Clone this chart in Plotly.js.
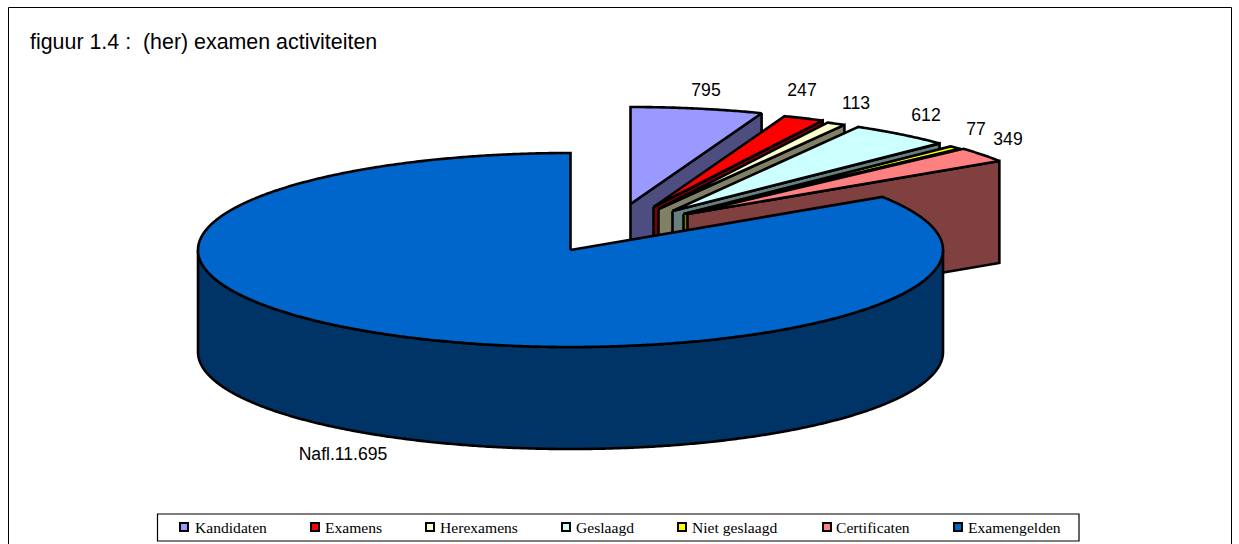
<!DOCTYPE html>
<html>
<head>
<meta charset="utf-8">
<script src="https://cdn.plot.ly/plotly-3.0.1.min.js"></script>
<style>html,body{margin:0;padding:0;background:#fff;overflow:hidden}</style>
</head>
<body>
<div id="chart" style="width:1239px;height:544px"></div>
<script>
// Data
const categories = ["Kandidaten","Examens","Herexamens","Geslaagd","Niet geslaagd","Certificaten","Examengelden"];
const values = [795,247,113,612,77,349,11695];
const valueLabels = ["795","247","113","612","77","349","Nafl.11.695"];
const topColors = ["#9999FF","#FF0000","#FFFFCC","#CCFFFF","#FFFF00","#FF8080","#0066CC"];
const wallColors = ["#4D4D80","#800000","#808066","#668080","#808000","#804040","#003366"];

// Layout of the drawing (pixels on the hidden axes)
const cx = 570.5, cy = 250, rx = 372.5, ry = 97, depth = 102;
const explodeX = [60,83,88,102,113,117,0];
const explodeY = [-46,-43,-41,-39,-36,-36,0];
const labelX = [706,802,856,926,976,1008,343];
const labelY = [92,92,105,117,131,141,456];
const legendSwatchX = [184,315,430,566,682,827,958];
const legendTextX = [195,325,440,576,692,836,968];
const legendY = 527;

const total = values.reduce((a,b)=>a+b,0);
function pt(ox,oy,deg){const t=deg*Math.PI/180;return [ox+rx*Math.sin(t),oy-ry*Math.cos(t)];}
function arc(ox,oy,a,b){const n=Math.max(2,Math.ceil(Math.abs(b-a)/0.4));const out=[];for(let i=0;i<=n;i++)out.push(pt(ox,oy,a+(b-a)*i/n));return out;}
function poly(points,fill,name){
  const p=points.concat([points[0]]);
  return {type:"scatter",mode:"lines",x:p.map(q=>q[0]),y:p.map(q=>q[1]),fill:"toself",fillcolor:fill,
    line:{color:"#000",width:2.6,simplify:false},name:name,hoverinfo:"name",showlegend:false};
}
const traces=[];
let start=0;
categories.forEach((c,i)=>{
  const sweep=values[i]/total*360, end=start+sweep;
  const ox=cx+explodeX[i], oy=cy+explodeY[i];
  if(i<categories.length-1){
    const e=pt(ox,oy,end);
    traces.push(poly([[ox,oy],e,[e[0],e[1]+depth],[ox,oy+depth]],wallColors[i],c));
    traces.push(poly([[ox,oy]].concat(arc(ox,oy,start,end)),topColors[i],c));
  }else{
    const lo=Math.max(start,90), hi=Math.min(end,270);
    const rim=arc(ox,oy,lo,hi);
    const low=arc(ox,oy+depth,hi,lo);
    traces.push(poly(rim.concat(low),wallColors[i],c));
    traces.push(poly([[ox,oy]].concat(arc(ox,oy,start,end)),topColors[i],c));
  }
  start=end;
});
traces.push({type:"scatter",mode:"text",x:labelX,y:labelY,text:valueLabels,textposition:"middle center",
  textfont:{family:"Liberation Sans, Arial, sans-serif",size:17.6,color:"#000"},hoverinfo:"skip",showlegend:false});
traces.push({type:"scatter",mode:"markers",x:legendSwatchX,y:categories.map(()=>legendY),
  marker:{symbol:"square",size:8,color:topColors,line:{color:"#000",width:2}},hoverinfo:"skip",showlegend:false});
traces.push({type:"scatter",mode:"text",x:legendTextX,y:categories.map(()=>legendY+2),text:categories,textposition:"middle right",
  textfont:{family:"Liberation Serif, Times New Roman, serif",size:15.6,color:"#000"},hoverinfo:"skip",showlegend:false});

const layout={
  width:1239,height:544,margin:{l:0,r:0,t:0,b:0},
  paper_bgcolor:"#fff",plot_bgcolor:"#fff",showlegend:false,
  title:{text:"figuur 1.4 :  (her) examen activiteiten",x:30/1239,xanchor:"left",xref:"paper",y:1-42/544,yanchor:"middle",
    font:{family:"Liberation Sans, Arial, sans-serif",size:21.4,color:"#000"}},
  xaxis:{range:[0,1239],visible:false,fixedrange:true},
  yaxis:{range:[544,0],visible:false,fixedrange:true},
  shapes:[
    {type:"rect",xref:"x",yref:"y",x0:8.5,x1:1231.5,y0:7.5,y1:600,line:{color:"#000",width:1},layer:"below"},
    {type:"rect",xref:"x",yref:"y",x0:157.5,x1:1079,y0:514,y1:541,line:{color:"#000",width:1.2},fillcolor:"#fff",layer:"below"}
  ]
};
Plotly.newPlot("chart",traces,layout,{displayModeBar:false});
</script>
</body>
</html>
